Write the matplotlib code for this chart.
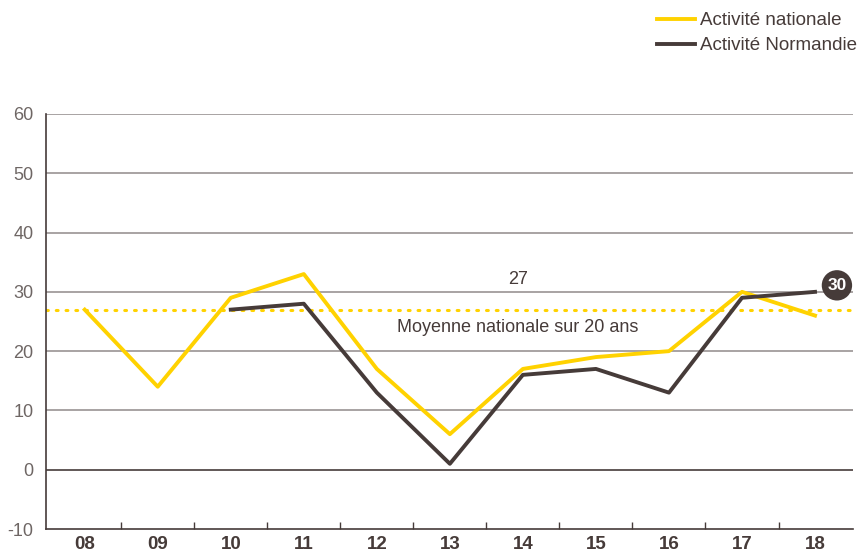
import matplotlib.pyplot as plt
import numpy as np

plt.rcParams['font.family'] = ['Liberation Sans', 'DejaVu Sans']

years = ["08", "09", "10", "11", "12", "13", "14", "15", "16", "17", "18"]
national = [27, 14, 29, 33, 17, 6, 17, 19, 20, 30, 26]
normandie = [None, None, 27, 28, 13, 1, 16, 17, 13, 29, 30]
moyenne = 27
yticks = [-10, 0, 10, 20, 30, 40, 50, 60]

yellow = '#ffd200'
dark = '#463b39'
grey_txt = '#6e6664'

x = np.arange(len(years))
norm_x = [i for i, v in enumerate(normandie) if v is not None]
norm_y = [v for v in normandie if v is not None]

fig = plt.figure(figsize=(8.59, 5.52), dpi=100)
ax = fig.add_axes([46/859, 23/552, (853-46)/859, (529-114)/552])

for v in yticks[2:]:
    ax.axhline(v, color='#9a9494', lw=1.2, zorder=1)
ax.axhline(0, color=dark, lw=1.2, zorder=1)
ax.axhline(moyenne, color=yellow, lw=2.2, ls=(0, (0.6, 2.6)), dash_capstyle='round', zorder=2)

ax.plot(x, national, color=yellow, lw=2.8, zorder=3, label='Activité nationale')
ax.plot(norm_x, norm_y, color=dark, lw=2.8, zorder=4, label='Activité Normandie')

ax.text(5.93, moyenne + 3.6, str(moyenne), ha='center', va='bottom', fontsize=13, color=dark)
ax.text(5.93, moyenne - 1.5, 'Moyenne nationale sur 20 ans', ha='center', va='top', fontsize=13, color=dark)

ax.annotate(str(norm_y[-1]), xy=(10.3, norm_y[-1] + 1.1), ha='center', va='center',
            fontsize=12.5, fontweight='bold', color='white', zorder=6,
            bbox=dict(boxstyle='circle,pad=0.32', fc=dark, ec='none'))

ax.set_xlim(-0.53, 10.52)
ax.set_ylim(-10, 60)
ax.set_yticks(yticks)
ax.set_yticklabels([str(v) for v in yticks])
ax.tick_params(axis='y', length=0, labelsize=13, labelcolor=grey_txt, pad=9)
ax.set_xticks(x)
ax.set_xticklabels(years, fontsize=13.5, fontweight='bold', color=dark)
ax.set_xticks(np.arange(0.5, 10, 1), minor=True)
ax.tick_params(axis='x', which='major', length=0, pad=5)
ax.tick_params(axis='x', which='minor', length=5, direction='in', color=dark, width=1)
for s in ['top', 'right']:
    ax.spines[s].set_visible(False)
ax.spines['left'].set_color(dark)
ax.spines['bottom'].set_color(dark)
ax.spines['left'].set_linewidth(1.2)
ax.spines['bottom'].set_linewidth(1.2)

fig.legend(loc='upper left', bbox_to_anchor=(657/859, 1 - 12/552), frameon=False,
           fontsize=13.5, handlelength=2.0, handletextpad=0.27, labelspacing=0.42,
           borderaxespad=0, borderpad=0, labelcolor=dark)

fig.savefig('out.png', dpi=100)
